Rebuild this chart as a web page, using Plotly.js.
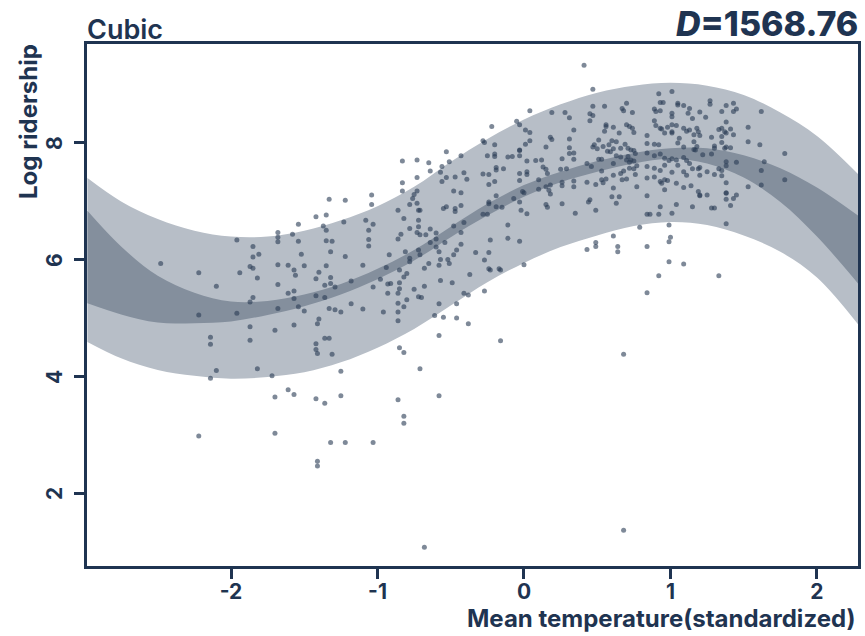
<!DOCTYPE html>
<html>
<head>
<meta charset="utf-8">
<script src="https://cdn.plot.ly/plotly-3.0.1.min.js"></script>
<style>html,body{margin:0;padding:0;background:#fff;}#chart{width:865px;height:636px;}</style>
</head>
<body>
<div id="chart"></div>
<script>
// ---- data ----
const gridTemp = [-2.98,-2.75,-2.5,-2.25,-2.0,-1.75,-1.5,-1.25,-1.0,-0.75,-0.5,-0.25,0,0.25,0.5,0.75,1.0,1.25,1.5,1.75,2.0,2.28];
const predUpper = [7.40,7.00,6.70,6.50,6.40,6.40,6.50,6.68,6.92,7.25,7.68,8.07,8.40,8.66,8.86,8.98,9.03,8.98,8.82,8.52,8.12,7.47];
const predLower = [4.60,4.32,4.12,4.02,3.97,4.00,4.08,4.25,4.50,4.82,5.22,5.62,5.95,6.22,6.42,6.58,6.65,6.60,6.42,6.14,5.70,4.90];
const fitUpper  = [6.84,6.23,5.73,5.44,5.29,5.30,5.41,5.59,5.85,6.17,6.57,6.96,7.28,7.51,7.69,7.83,7.91,7.91,7.79,7.57,7.24,6.76];
const fitLower  = [5.26,5.07,4.93,4.92,4.95,5.06,5.21,5.41,5.67,5.99,6.39,6.76,7.08,7.33,7.51,7.65,7.73,7.65,7.41,6.99,6.40,5.60];
const xTicks = [-2,-1,0,1,2];
const yTicks = [2,4,6,8];
const statLabel = "1568.76";
// observations: [standardized mean temperature, log ridership]
const observations = [
[-2.48,5.94],[-2.22,5.78],[-2.10,5.55],[-2.22,5.06],[-1.96,6.34],[-1.96,5.09],[-1.94,5.78],[-1.85,6.23],[-1.85,6.05],[-1.81,6.10],
[-1.87,5.89],[-1.85,5.86],[-1.82,5.69],[-1.85,5.36],[-1.87,5.28],[-1.68,6.47],[-1.68,6.39],[-1.68,6.31],[-1.68,5.92],[-1.68,5.58],
[-1.68,5.17],[-1.61,5.91],[-1.61,5.43],[-1.57,5.83],[-1.56,5.74],[-1.57,5.47],[-1.57,5.34],[-1.54,6.61],[-1.54,6.32],[-1.54,5.20],
[-1.52,6.10],[-1.50,5.90],[-1.50,5.13],[-1.58,6.44],[-1.42,6.74],[-1.35,6.77],[-1.33,7.04],[-1.22,7.02],[-1.37,6.58],[-1.35,6.51],
[-1.35,6.33],[-1.31,6.32],[-1.32,6.14],[-1.35,5.90],[-1.40,5.79],[-1.42,5.68],[-1.32,5.70],[-1.32,5.60],[-1.36,5.57],[-1.29,5.54],
[-1.42,5.39],[-1.36,5.36],[-1.33,5.17],[-1.29,5.15],[-1.25,5.11],[-1.18,5.25],[-1.18,5.64],[-1.22,6.06],[-1.23,6.65],[-1.08,6.68],
[-1.06,6.51],[-1.03,6.61],[-1.06,6.35],[-1.06,6.24],[-1.04,7.11],[-1.04,6.95],[-1.10,5.91],[-1.10,5.16],[-1.03,5.54],[-0.98,5.67],
[-0.96,5.11],[-0.93,5.59],[-0.94,5.87],[-0.92,6.09],[-0.86,6.36],[-0.84,6.44],[-0.86,6.85],[-0.83,7.32],[-0.83,7.18],[-0.82,6.71],
[-0.78,6.54],[-0.78,6.95],[-0.76,7.05],[-0.75,7.12],[-0.73,7.18],[-0.73,6.97],[-0.72,6.85],[-0.71,6.85],[-0.72,6.68],[-0.72,6.57],
[-0.73,6.47],[-0.71,6.43],[-0.67,6.43],[-0.64,6.53],[-0.60,6.46],[-0.60,6.36],[-0.64,6.30],[-0.60,6.22],[-0.54,6.30],[-0.58,6.14],
[-0.57,6.01],[-0.58,5.91],[-0.57,5.65],[-0.52,6.01],[-0.51,5.94],[-0.48,6.09],[-0.46,6.17],[-0.43,6.27],[-0.43,6.47],[-0.41,6.64],
[-0.48,6.58],[-0.37,5.75],[-0.49,5.61],[-0.46,5.25],[-0.41,5.43],[-0.38,5.40],[-0.58,5.25],[-0.61,5.05],[-0.55,5.02],[-0.46,5.01],
[-0.38,4.91],[-0.72,6.17],[-0.71,6.09],[-0.78,6.03],[-0.78,5.97],[-0.81,6.14],[-0.80,5.77],[-0.82,5.71],[-0.85,5.83],[-0.85,5.61],
[-0.85,5.51],[-0.86,5.43],[-0.86,5.26],[-0.82,5.20],[-0.80,5.32],[-0.86,5.11],[-0.86,4.96],[-0.91,5.60],[-0.93,5.43],[-0.75,5.50],
[-0.72,5.37],[-0.70,5.36],[-0.68,5.55],[-0.68,5.86],[-0.65,5.94],
[-2.14,4.68],[-2.14,4.56],[-1.87,4.86],[-1.87,4.63],[-1.70,4.80],[-1.57,4.89],[-1.41,4.91],[-1.40,4.99],[-1.36,4.66],[-1.33,4.66],
[-1.42,4.57],[-1.42,4.47],[-1.41,4.40],[-1.31,4.39],[-1.25,4.10],[-2.10,4.11],[-2.14,3.98],[-1.82,4.14],[-1.72,4.02],[-0.85,4.50],
[-0.82,4.42],[-0.71,4.14],[-0.58,4.71],
[-0.83,7.69],[-0.73,7.71],[-0.65,7.66],[-0.64,7.52],[-0.56,7.60],[-0.51,7.68],[-0.57,7.50],[-0.56,7.34],[-0.53,7.41],[-0.47,7.42],
[-0.41,7.49],[-0.39,7.38],[-0.48,7.18],[-0.43,7.15],[-0.43,6.93],[-0.47,6.88],[-0.47,6.83],[-0.53,6.91],[-0.55,6.88],[-0.73,7.41],
[-0.33,6.13],[-0.53,7.85],[-0.43,7.78],
[-1.70,3.66],[-1.61,3.78],[-1.57,3.70],[-1.42,3.63],[-1.36,3.55],[-1.25,3.68],[-0.86,3.61],[-0.82,3.33],[-0.82,3.21],[-0.58,3.68],
[-2.22,2.99],[-1.70,3.04],[-1.32,2.88],[-1.22,2.88],[-1.03,2.88],[-1.41,2.56],[-1.41,2.48],[-0.68,1.09],
[-0.27,5.47],[-0.16,5.83],[-0.23,5.83],[-0.16,4.62],[0.92,5.73],[0.84,5.44],[0.68,4.39],[0.68,1.38],
[0.41,9.33],[0.47,8.92],[0.04,8.55],[0.19,8.52],[0.28,8.52],[0.31,8.43],[0.45,8.50],[0.47,8.47],[0.45,8.38],[0.55,8.63],
[0.47,8.63],[0.70,8.68],[0.67,8.59],[0.68,8.55],[0.74,8.52],[0.92,8.84],[1.01,8.88],[0.93,8.69],[0.95,8.69],[1.05,8.68],
[1.05,8.65],[1.09,8.64],[1.13,8.59],[1.12,8.51],[1.01,8.51],[1.01,8.45],[1.20,8.53],[1.15,8.42],[0.89,8.58],[0.90,8.54],
[0.93,8.55],[0.89,8.38],[0.90,8.30],[0.93,8.25],[0.94,8.24],[0.98,8.27],[1.01,8.31],[1.04,8.30],[1.01,8.17],[1.09,8.25],
[1.11,8.20],[1.13,8.22],[1.18,8.25],[1.19,8.19],[1.16,8.14],[1.20,8.13],[0.56,8.31],[0.56,8.28],[0.55,8.20],[0.61,8.27],
[0.65,8.17],[0.70,8.31],[0.72,8.28],[0.74,8.25],[0.75,8.18],[0.84,8.13],[0.84,7.99],[0.89,7.98],[0.92,7.97],[0.96,8.17],
[1.05,8.00],[1.09,7.93],[1.16,8.02],[1.18,7.94],[1.06,8.08],[1.01,8.19],
[-0.22,8.28],[-0.05,8.37],[-0.03,8.31],[0.01,8.22],[0.04,8.18],[0.04,8.04],[0.18,8.10],[0.19,8.06],[0.31,8.07],[0.34,8.22],
[-0.28,8.04],[-0.27,8.01],[-0.20,7.97],[-0.20,7.81],[-0.20,7.77],[-0.25,7.78],[-0.11,7.76],[-0.08,7.77],[-0.03,7.88],[-0.03,7.87],
[-0.03,7.78],[0.01,7.98],[0.15,7.93],[0.31,7.92],[0.31,7.82],[0.34,7.83],[0.34,7.72],[0.26,7.73],[0.12,7.71],[0.08,7.70],
[0.02,7.69],[-0.14,7.56],[-0.19,7.58],[-0.19,7.54],[-0.28,7.47],[-0.24,7.46],[-0.24,7.29],[-0.20,7.34],[-0.19,7.10],[-0.03,7.48],
[0.02,7.51],[0.02,7.46],[-0.03,7.36],[0.10,7.37],[0.13,7.59],[0.15,7.55],[0.16,7.48],[0.25,7.55],[0.29,7.56],[0.26,7.33],
[0.26,7.27],[0.34,7.35],[0.34,7.25],[0.18,7.28],[0.15,7.25],[0.17,7.19],[0.18,7.13],[0.10,7.21],[-0.07,7.05],[-0.03,6.99],
[-0.01,7.17],[0.00,7.15],[-0.24,6.99],[-0.24,6.96],[-0.19,6.91],[-0.15,6.90],[-0.28,6.78],[-0.25,6.78],[-0.02,6.85],[0.02,6.79],
[0.15,6.95],[0.16,6.90],[0.26,6.96],[0.35,6.80],[0.43,7.33],[0.49,7.29],[0.53,7.37],[0.56,7.385],[0.61,7.23],[0.60,7.08],
[0.63,6.97],[0.65,7.08],[0.45,7.03],[0.44,6.99],[0.49,6.85],[0.43,7.65],[0.46,7.60],[0.47,7.93],[0.50,7.90],[0.48,7.97],
[0.54,7.94],[0.58,7.97],[0.60,8.04],[0.63,8.02],[0.66,7.91],[0.69,7.98],[0.71,7.91],[0.73,7.88],[0.75,7.87],[0.63,7.78],
[0.66,7.76],[0.70,7.71],[0.71,7.77],[0.73,7.71],[0.76,7.82],[0.75,7.69],[0.72,7.67],[0.72,7.57],[0.68,7.52],[0.66,7.48],
[0.75,7.56],[0.76,7.46],[0.70,7.385],[0.67,7.37],[0.77,7.25],[0.53,7.52],[0.54,7.32],[0.51,7.72],[0.53,7.72],[0.61,7.65],
[0.61,7.45],[0.57,7.86],[0.59,7.85],[0.61,7.90],[0.51,8.05],
[0.84,7.83],[0.89,7.78],[0.93,7.81],[0.96,7.74],[0.99,7.70],[1.01,7.73],[1.04,7.71],[1.05,7.62],[1.09,7.75],[1.11,7.70],
[1.13,7.65],[1.16,7.89],[1.17,7.88],[0.84,7.60],[0.89,7.57],[0.93,7.53],[0.96,7.62],[1.01,7.50],[1.09,7.51],[1.11,7.45],
[1.15,7.56],[1.19,7.56],[0.93,7.34],[0.94,7.31],[0.96,7.37],[0.96,7.20],[0.98,7.36],[1.04,7.31],[1.09,7.24],[1.14,7.27],
[1.19,7.17],[1.20,7.10],[0.84,7.40],[0.84,6.78],[0.92,6.78],[0.93,6.91],[1.01,6.80],[1.04,6.95],[1.15,6.91],[0.77,7.61],
[0.89,7.42],[0.84,7.10],[0.79,6.56],[0.86,6.78],[0.99,6.60],[1.00,6.39],[0.99,6.31],[0.99,5.97],[1.09,5.93],[0.84,6.23],
[0.61,6.41],[0.49,6.30],[0.49,6.23],[0.43,6.18],[0.64,6.23],[0.64,6.14],[-0.23,6.34],[-0.11,6.60],[-0.11,6.37],[-0.03,6.32],
[-0.24,6.13],[-0.27,6.00],[-0.24,5.85],[-0.17,5.85],[0.00,5.92],
[1.27,8.72],[1.27,8.66],[1.38,8.64],[1.43,8.68],[1.45,8.58],[1.43,8.54],[1.35,8.54],[1.24,8.44],[1.62,8.54],[1.38,8.36],
[1.53,8.27],[1.33,8.23],[1.35,8.25],[1.37,8.19],[1.41,8.24],[1.43,8.14],[1.38,8.17],[1.35,8.11],[1.28,8.10],[1.30,7.95],
[1.30,7.91],[1.35,8.01],[1.37,7.91],[1.38,7.93],[1.41,7.92],[1.53,8.02],[1.61,7.97],[1.78,7.82],[1.22,7.80],[1.28,7.81],
[1.38,7.68],[1.45,7.67],[1.64,7.68],[1.62,7.53],[1.78,7.37],[1.20,7.58],[1.20,7.45],[1.25,7.51],[1.30,7.46],[1.33,7.56],
[1.35,7.53],[1.35,7.44],[1.38,7.61],[1.53,7.25],[1.62,7.28],[1.20,7.11],[1.25,7.11],[1.38,7.32],[1.38,7.15],[1.38,7.14],
[1.45,7.11],[1.43,7.05],[1.38,7.04],[1.41,6.93],[1.28,6.89],[1.30,6.89],[1.38,6.62],[1.33,5.73]
];

const ink = '#1f3451';
const obsX = observations.map(p => p[0]);
const obsY = observations.map(p => p[1]);

const traces = [
  {x: gridTemp, y: predUpper, type: 'scatter', mode: 'lines', line: {width: 0, shape: 'spline'}, hoverinfo: 'skip', showlegend: false},
  {x: gridTemp, y: predLower, type: 'scatter', mode: 'lines', line: {width: 0, shape: 'spline'}, fill: 'tonexty', fillcolor: '#b7bec7', hoverinfo: 'skip', showlegend: false},
  {x: gridTemp, y: fitUpper, type: 'scatter', mode: 'lines', line: {width: 0, shape: 'spline'}, hoverinfo: 'skip', showlegend: false},
  {x: gridTemp, y: fitLower, type: 'scatter', mode: 'lines', line: {width: 0, shape: 'spline'}, fill: 'tonexty', fillcolor: '#848f9d', hoverinfo: 'skip', showlegend: false},
  {x: obsX, y: obsY, type: 'scatter', mode: 'markers', marker: {size: 5, color: 'rgba(40,58,84,0.6)', line: {width: 0}}, showlegend: false}
];

// y tick labels, rotated as in the reference, placed on the y scale
const yTickAnnotations = yTicks.map(v => ({
  text: String(v), xref: 'paper', yref: 'y', x: -32/771, y: v, xanchor: 'center', yanchor: 'middle',
  textangle: -90, showarrow: false, font: {size: 21, color: ink, weight: 700}
}));

const layout = {
  width: 865, height: 636,
  margin: {l: 87, r: 7, t: 44, b: 70, pad: 0},
  paper_bgcolor: '#ffffff', plot_bgcolor: '#ffffff',
  font: {family: 'Inter, "Noto Sans", sans-serif', color: ink},
  showlegend: false,
  title: {text: 'Cubic', x: 0, xref: 'paper', xanchor: 'left', y: 1 - 30/636, yref: 'container', yanchor: 'middle',
          font: {size: 27, color: ink, weight: 600}},
  xaxis: {
    range: [-2.983, 2.28], tickvals: xTicks, ticktext: xTicks.map(String),
    showgrid: false, zeroline: false, showline: true, mirror: true, linecolor: ink, linewidth: 3,
    ticks: 'outside', ticklen: 10, tickwidth: 3, tickcolor: ink,
    tickfont: {size: 21, color: ink, weight: 700}, ticklabelstandoff: -5
  },
  yaxis: {
    range: [0.769, 9.692], tickvals: yTicks, showticklabels: false,
    showgrid: false, zeroline: false, showline: true, mirror: true, linecolor: ink, linewidth: 3,
    ticks: 'outside', ticklen: 10, tickwidth: 3, tickcolor: ink
  },
  annotations: [
    {text: '<i>D</i>=' + statLabel, xref: 'paper', yref: 'paper', x: 1.002, y: 1 + 21/522, xanchor: 'right', yanchor: 'middle',
     showarrow: false, font: {size: 34, color: ink, weight: 800}},
    {text: 'Mean temperature(standardized)', xref: 'paper', yref: 'paper', x: 1, y: -52/522, xanchor: 'right', yanchor: 'middle',
     showarrow: false, font: {size: 24, color: ink, weight: 700}},
    {text: 'Log ridership', xref: 'paper', yref: 'paper', x: -59/771, y: 1 - 77/522, xanchor: 'center', yanchor: 'middle', textangle: -90,
     showarrow: false, font: {size: 24, color: ink, weight: 700}}
  ].concat(yTickAnnotations)
};

Plotly.newPlot('chart', traces, layout, {displayModeBar: false, staticPlot: true});
</script>
</body>
</html>
